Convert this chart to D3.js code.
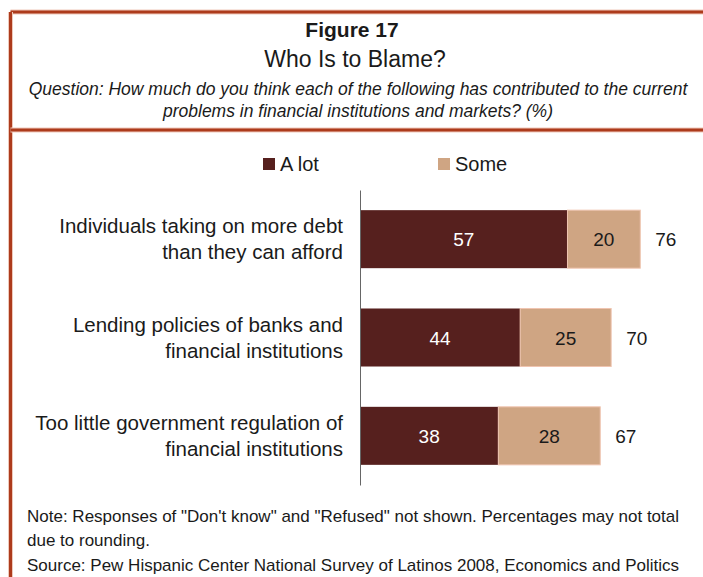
<!DOCTYPE html>
<html>
<head>
<meta charset="utf-8">
<script src="https://cdn.jsdelivr.net/npm/d3@7"></script>
<style>
  html, body { margin: 0; padding: 0; background: #fff; }
  svg { display: block; }
  text { font-family: "Liberation Sans", Arial, sans-serif; fill: #1a1a1a; }
</style>
</head>
<body>
<svg id="chart" width="703" height="577"></svg>
<script>
// Survey answers, percent of respondents
const categories = [
  ["Individuals taking on more debt", "than they can afford"],
  ["Lending policies of banks and", "financial institutions"],
  ["Too little government regulation of", "financial institutions"]
];
const seriesNames = ["A lot", "Some"];
const aLot = [57, 44, 38];
const some = [20, 25, 28];
const totals = [76, 70, 67];

const colors = ["#56201e", "#cfa583"];
const frameColor = "#ad3b1c";

const W = 703, H = 577;
const svg = d3.select("#chart");

// Frame: top rule, left rule and rule under the header
const frame = svg.append("g");
[[10.5, 12, W, 12], [10.5, 12, 10.5, H], [10.5, 130, W, 130]].forEach(([x1, y1, x2, y2]) => {
  frame.append("line").attr("x1", x1).attr("y1", y1).attr("x2", x2).attr("y2", y2)
    .attr("stroke", "#efc9bb").attr("stroke-width", 5);
  frame.append("line").attr("x1", x1).attr("y1", y1).attr("x2", x2).attr("y2", y2)
    .attr("stroke", frameColor).attr("stroke-width", 3);
});

// Header
svg.append("text").attr("x", 352).attr("y", 37).attr("text-anchor", "middle")
  .style("font-size", "21px").style("font-weight", "bold").text("Figure 17");
svg.append("text").attr("x", 355).attr("y", 67).attr("text-anchor", "middle")
  .style("font-size", "23px").text("Who Is to Blame?");
const qLines = [
  "Question: How much do you think each of the following has contributed to the current",
  "problems in financial institutions and markets? (%)"
];
qLines.forEach((t, i) => {
  svg.append("text").attr("x", 358).attr("y", 95 + i * 22).attr("text-anchor", "middle")
    .style("font-size", "17.5px").style("font-style", "italic").text(t);
});

// Scales
const idx = d3.range(categories.length);
const x = d3.scaleLinear().domain([0, 100]).range([360, 724]);
const y = d3.scaleBand().domain(idx).range([190, 485]).paddingInner(0.41).paddingOuter(0.205);

// Legend
const legendX = [263, 438];
seriesNames.forEach((name, i) => {
  const g = svg.append("g").attr("transform", `translate(${legendX[i]},158)`);
  g.append("rect").attr("width", 12).attr("height", 12).attr("fill", colors[i]);
  g.append("text").attr("x", 17).attr("y", 13).style("font-size", "20px").text(name);
});

// Bars
const stacks = idx.map(i => [
  { start: 0, end: aLot[i], v: aLot[i], k: 0, i },
  { start: aLot[i], end: aLot[i] + some[i], v: some[i], k: 1, i }
]);
const rows = svg.append("g").selectAll("g").data(stacks).join("g");
rows.selectAll("rect").data(d => d).join("rect")
  .attr("x", d => x(d.start))
  .attr("y", d => y(d.i))
  .attr("width", d => x(d.end) - x(d.start))
  .attr("height", y.bandwidth())
  .attr("fill", d => colors[d.k])
  .attr("stroke", d => d.k === 1 ? "#efc4b0" : "none")
  .attr("stroke-width", 1);
rows.selectAll("text.val").data(d => d).join("text").attr("class", "val")
  .attr("x", d => (x(d.start) + x(d.end)) / 2)
  .attr("y", d => y(d.i) + y.bandwidth() / 2 + 7)
  .attr("text-anchor", "middle")
  .style("font-size", "19px")
  .style("fill", d => d.k === 0 ? "#ffffff" : "#1a1a1a")
  .text(d => d.v);

// Totals
svg.append("g").selectAll("text").data(idx).join("text")
  .attr("x", i => x(aLot[i] + some[i]) + 15)
  .attr("y", i => y(i) + y.bandwidth() / 2 + 7)
  .style("font-size", "19px")
  .text(i => totals[i]);

// Category labels
const lab = svg.append("g").selectAll("text").data(idx).join("text")
  .attr("text-anchor", "end")
  .style("font-size", "20.5px");
lab.each(function (i) {
  const c = y(i) + y.bandwidth() / 2;
  categories[i].forEach((line, j) => {
    d3.select(this).append("tspan").attr("x", 343).attr("y", c - 6 + j * 26).text(line);
  });
});

// Vertical axis line
svg.append("g").attr("transform", "translate(360,0)")
  .call(d3.axisLeft(d3.scaleLinear().range([190, 485])).tickValues([]).tickSizeOuter(0))
  .select(".domain").attr("stroke", "#666");

// Notes
const notes = [
  "Note: Responses of \"Don't know\" and \"Refused\" not shown. Percentages may not total",
  "due to rounding.",
  "Source: Pew Hispanic Center National Survey of Latinos 2008, Economics and Politics"
];
notes.forEach((t, i) => {
  svg.append("text").attr("x", 27).attr("y", [522, 546, 571][i])
    .style("font-size", "17px").text(t);
});
</script>
</body>
</html>
